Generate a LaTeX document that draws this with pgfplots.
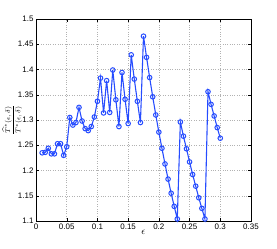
\documentclass[border=0pt]{standalone}
\usepackage{pgfplots}
\pgfplotsset{compat=1.18}
\usepackage{fontspec}
\setmainfont{Liberation Sans}
\definecolor{mlblue}{rgb}{0.15,0.3,1}
\begin{document}
\begin{tikzpicture}
\useasboundingbox (-36bp,-28bp) rectangle (241bp,221bp);
\begin{axis}[
  at={(0,0)}, anchor=south west,
  scale only axis, width=215bp, height=202bp,
  xmin=0, xmax=0.35, ymin=1.1, ymax=1.5,
  xtick={0,0.05,...,0.35}, ytick={1.1,1.15,...,1.5},
  xticklabels={0,0.05,0.1,0.15,0.2,0.25,0.3,0.35},
  yticklabels={1.1,1.15,1.2,1.25,1.3,1.35,1.4,1.45,1.5},
  tick align=inside, tick style={black, line width=0.4pt}, major tick length=3bp,
  grid=major, grid style={gray!60, dotted, line width=0.5pt},
  axis line style={black, line width=0.5pt},
  tick label style={font=\fontsize{8}{9}\selectfont},
  xticklabel style={yshift=1pt},
  yticklabel style={xshift=1pt},
  xlabel={$\epsilon$}, ylabel={$\displaystyle\frac{\widehat{T}^*(\epsilon,\delta)}{T^*(\epsilon,\delta)}$},
  xlabel style={yshift=6pt},
  ylabel style={at={(axis description cs:-0.11,0.5)}, anchor=center, font=\fontsize{7}{8}\selectfont},
  clip=false,
]
\addplot[mlblue, line width=1.1pt, mark=o, mark size=2.3pt, mark options={line width=1pt}] coordinates {
(0.010,1.235)(0.015,1.236)(0.020,1.244)(0.025,1.233)(0.030,1.233)(0.035,1.253)(0.040,1.253)(0.045,1.230)(0.050,1.247)(0.055,1.305)(0.060,1.290)(0.065,1.295)(0.070,1.325)(0.075,1.298)(0.080,1.283)(0.085,1.279)(0.090,1.287)(0.095,1.306)(0.100,1.337)(0.105,1.383)(0.110,1.314)(0.115,1.378)(0.120,1.315)(0.125,1.399)(0.130,1.340)(0.135,1.287)(0.140,1.394)(0.145,1.341)(0.150,1.293)(0.155,1.429)(0.160,1.381)(0.165,1.337)(0.170,1.295)(0.175,1.466)(0.180,1.424)(0.185,1.384)(0.190,1.346)(0.195,1.310)(0.200,1.276)(0.205,1.244)(0.210,1.213)(0.215,1.183)(0.220,1.155)(0.225,1.129)(0.230,1.104)(0.235,1.296)(0.240,1.268)(0.245,1.243)(0.250,1.217)(0.255,1.192)(0.260,1.169)(0.265,1.146)(0.270,1.125)(0.275,1.104)(0.280,1.356)(0.285,1.331)(0.290,1.308)(0.295,1.285)(0.300,1.264)
};
\end{axis}
\end{tikzpicture}
\end{document}
